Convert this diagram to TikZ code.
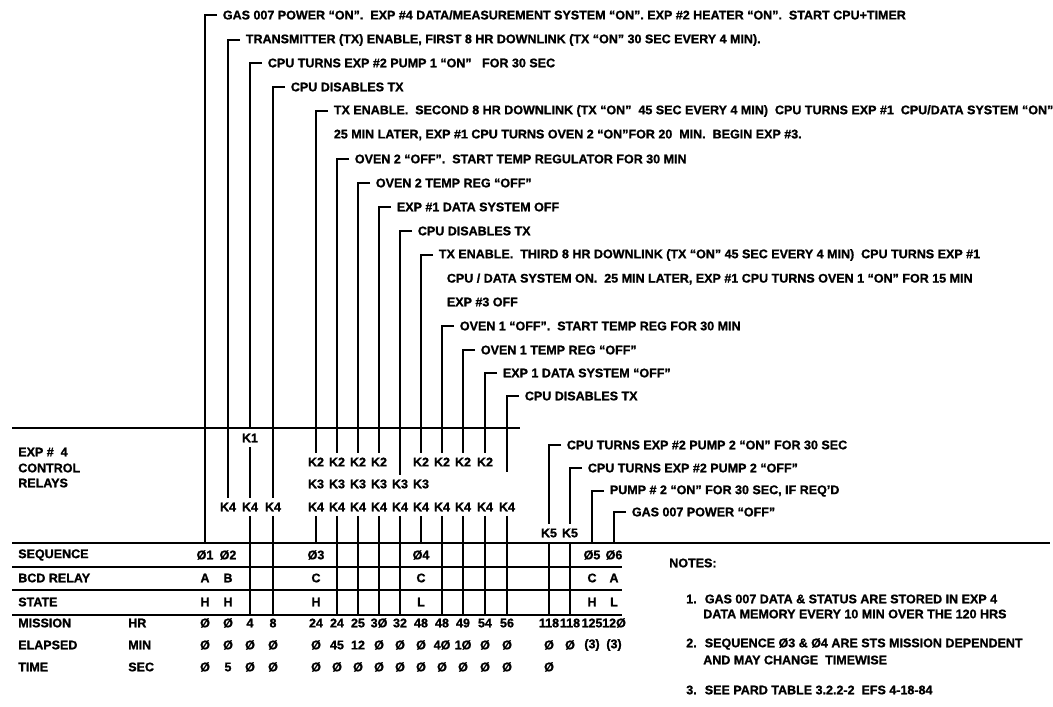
\documentclass[tikz,border=0pt]{standalone}
\usepackage{fontspec}
\setmainfont[FakeBold=1.2]{Liberation Sans}
\usetikzlibrary{positioning}

\begin{document}
\begin{tikzpicture}[
  x=0.025cm, y=-0.025cm,
  font=\fontsize{8.9}{10}\selectfont\bfseries,
  event/.style={anchor=west, inner xsep=4pt, inner ysep=0pt},
  relay/.style={inner xsep=1pt, inner ysep=3pt},
  cell/.style={inner sep=1pt},
  rowlabel/.style={anchor=west, inner sep=0pt},
  wire/.style={line width=1.5pt},
  rule/.style={line width=1.5pt}
]
  \useasboundingbox (0,0) rectangle (1053,706);

  % events
  \node[event] (e1)  at (217,15)  {GAS 007 POWER ``ON''.~ EXP \#4 DATA/MEASUREMENT SYSTEM ``ON''. EXP \#2 HEATER ``ON''.~ START CPU+TIMER};
  \node[event] (e2)  at (240,40)  {TRANSMITTER (TX) ENABLE, FIRST 8 HR DOWNLINK (TX ``ON'' 30 SEC EVERY 4 MIN).};
  \node[event] (e3)  at (262,63)  {CPU TURNS EXP \#2 PUMP 1 ``ON''~~ FOR 30 SEC};
  \node[event] (e4)  at (285,87)  {CPU DISABLES TX};
  \node[event] (e5)  at (328,111) {TX ENABLE.~ SECOND 8 HR DOWNLINK (TX ``ON''~ 45 SEC EVERY 4 MIN)~ CPU TURNS EXP \#1~ CPU/DATA SYSTEM ``ON''};
  \node[event] (e5b) at (328,135) {25 MIN LATER, EXP \#1 CPU TURNS OVEN 2 ``ON''FOR 20~ MIN.~ BEGIN EXP \#3.};
  \node[event] (e6)  at (349,159) {OVEN 2 ``OFF''.~ START TEMP REGULATOR FOR 30 MIN};
  \node[event] (e7)  at (370,183) {OVEN 2 TEMP REG ``OFF''};
  \node[event] (e8)  at (391,207) {EXP \#1 DATA SYSTEM OFF};
  \node[event] (e9)  at (412,231) {CPU DISABLES TX};
  \node[event] (e10) at (433,255) {TX ENABLE.~ THIRD 8 HR DOWNLINK (TX ``ON'' 45 SEC EVERY 4 MIN)~ CPU TURNS EXP \#1};
  \node[event] (e10b) at (441,279) {CPU / DATA SYSTEM ON.~ 25 MIN LATER, EXP \#1 CPU TURNS OVEN 1 ``ON'' FOR 15 MIN};
  \node[event] (e10c) at (441,302) {EXP \#3 OFF};
  \node[event] (e11) at (454,326) {OVEN 1 ``OFF''.~ START TEMP REG FOR 30 MIN};
  \node[event] (e12) at (475,350) {OVEN 1 TEMP REG ``OFF''};
  \node[event] (e13) at (497,373) {EXP 1 DATA SYSTEM ``OFF''};
  \node[event] (e14) at (519,396) {CPU DISABLES TX};
  \node[event] (e15) at (561,445) {CPU TURNS EXP \#2 PUMP 2 ``ON'' FOR 30 SEC};
  \node[event] (e16) at (582,468) {CPU TURNS EXP \#2 PUMP 2 ``OFF''};
  \node[event] (e17) at (604,491) {PUMP \# 2 ``ON'' FOR 30 SEC, IF REQ'D};
  \node[event] (e18) at (626,512) {GAS 007 POWER ``OFF''};

  % relays
  \node[rowlabel] (exp)  at (18,452) {EXP \#~ 4};
  \node[rowlabel] (ctl)  at (18,468) {CONTROL};
  \node[rowlabel] (rly)  at (18,483) {RELAYS};
  \node[relay] (k1c3)  at (250,438) {K1};
  \node[relay] (k2c5)  at (316,462) {K2};
  \node[relay] (k2c6)  at (337,462) {K2};
  \node[relay] (k2c7)  at (358,462) {K2};
  \node[relay] (k2c8)  at (379,462) {K2};
  \node[relay] (k2c10) at (421,462) {K2};
  \node[relay] (k2c11) at (442,462) {K2};
  \node[relay] (k2c12) at (463,462) {K2};
  \node[relay] (k2c13) at (485,462) {K2};
  \node[relay] (k3c5)  at (316,484) {K3};
  \node[relay] (k3c6)  at (337,484) {K3};
  \node[relay] (k3c7)  at (358,484) {K3};
  \node[relay] (k3c8)  at (379,484) {K3};
  \node[relay] (k3c9)  at (400,484) {K3};
  \node[relay] (k3c10) at (421,484) {K3};
  \node[relay] (k4c2)  at (228,507) {K4};
  \node[relay] (k4c3)  at (250,507) {K4};
  \node[relay] (k4c4)  at (273,507) {K4};
  \node[relay] (k4c5)  at (316,507) {K4};
  \node[relay] (k4c6)  at (337,507) {K4};
  \node[relay] (k4c7)  at (358,507) {K4};
  \node[relay] (k4c8)  at (379,507) {K4};
  \node[relay] (k4c9)  at (400,507) {K4};
  \node[relay] (k4c10) at (421,507) {K4};
  \node[relay] (k4c11) at (442,507) {K4};
  \node[relay] (k4c12) at (463,507) {K4};
  \node[relay] (k4c13) at (485,507) {K4};
  \node[relay] (k4c14) at (507,507) {K4};
  \node[relay] (k5c15) at (549,533) {K5};
  \node[relay] (k5c16) at (570,533) {K5};

  % line ends
  \coordinate (top1)  at (205,543);
  \coordinate (top5)  at (316,543);
  \coordinate (top10) at (421,543);
  \coordinate (top17) at (592,543);
  \coordinate (top18) at (614,543);
  \coordinate (mid3)  at (250,428);
  \coordinate (end14) at (507,472);
  \coordinate (bot3)  at (250,615);
  \coordinate (bot4)  at (273,615);
  \coordinate (bot6)  at (337,615);
  \coordinate (bot7)  at (358,615);
  \coordinate (bot8)  at (379,615);
  \coordinate (bot9)  at (400,615);
  \coordinate (bot11) at (442,615);
  \coordinate (bot12) at (463,615);
  \coordinate (bot13) at (485,615);
  \coordinate (bot14) at (507,615);
  \coordinate (bot15) at (549,615);
  \coordinate (bot16) at (570,615);

  % rules
  \draw[rule] (12,428) -- (520,428);
  \draw[rule] (12,543) -- (1050,543);
  \draw[rule] (12,567) -- (622,567);
  \draw[rule] (12,590) -- (622,590);
  \draw[rule] (12,615) -- (622,615);

  % brackets
  \draw[wire] (e1.west)  -| (top1);
  \draw[wire] (e2.west)  -| (k4c2.north);
  \draw[wire] (e3.west)  -| (mid3);
  \draw[wire] (e4.west)  -| (k4c4.north);
  \draw[wire] (e5.west)  -| (k2c5.north);
  \draw[wire] (e6.west)  -| (k2c6.north);
  \draw[wire] (e7.west)  -| (k2c7.north);
  \draw[wire] (e8.west)  -| (k2c8.north);
  \draw[wire] (e9.west)  -| (k3c9.north);
  \draw[wire] (e10.west) -| (k2c10.north);
  \draw[wire] (e11.west) -| (k2c11.north);
  \draw[wire] (e12.west) -| (k2c12.north);
  \draw[wire] (e13.west) -| (k2c13.north);
  \draw[wire] (e14.west) -| (end14);
  \draw[wire] (e15.west) -| (k5c15.north);
  \draw[wire] (e16.west) -| (k5c16.north);
  \draw[wire] (e17.west) -| (top17);
  \draw[wire] (e18.west) -| (top18);

  % drops into the table
  \draw[wire] (k1c3) -- (k4c3);
  \draw[wire] (k4c3) -- (bot3);
  \draw[wire] (k4c4) -- (bot4);
  \draw[wire] (k4c5) -- (top5);
  \draw[wire] (k4c6) -- (bot6);
  \draw[wire] (k4c7) -- (bot7);
  \draw[wire] (k4c8) -- (bot8);
  \draw[wire] (k4c9) -- (bot9);
  \draw[wire] (k4c10) -- (top10);
  \draw[wire] (k4c11) -- (bot11);
  \draw[wire] (k4c12) -- (bot12);
  \draw[wire] (k4c13) -- (bot13);
  \draw[wire] (k4c14) -- (bot14);
  \draw[wire] (k5c15) -- (bot15);
  \draw[wire] (k5c16) -- (bot16);

  % row labels
  \node[rowlabel] (seq)  at (18,555) {SEQUENCE};
  \node[rowlabel] (bcd)  at (18,578) {BCD RELAY};
  \node[rowlabel] (st)   at (18,602) {STATE};
  \node[rowlabel] (mis)  at (18,623) {MISSION};
  \node[rowlabel] (ela)  at (18,645) {ELAPSED};
  \node[rowlabel] (tim)  at (18,667) {TIME};
  \node[rowlabel] (hr)   at (128,623) {HR};
  \node[rowlabel] (min)  at (128,645) {MIN};
  \node[rowlabel] (sec)  at (128,667) {SEC};

  % sequence, relay, state
  \node[cell] (s1) at (205,555) {Ø1};  \node[cell] (s2) at (228,555) {Ø2};
  \node[cell] (s3) at (316,555) {Ø3};  \node[cell] (s4) at (421,555) {Ø4};
  \node[cell] (s5) at (592,555) {Ø5};  \node[cell] (s6) at (614,555) {Ø6};
  \node[cell] (b1) at (205,578) {A};   \node[cell] (b2) at (228,578) {B};
  \node[cell] (b3) at (316,578) {C};   \node[cell] (b4) at (421,578) {C};
  \node[cell] (b5) at (592,578) {C};   \node[cell] (b6) at (614,578) {A};
  \node[cell] (h1) at (205,602) {H};   \node[cell] (h2) at (228,602) {H};
  \node[cell] (h3) at (316,602) {H};   \node[cell] (h4) at (421,602) {L};
  \node[cell] (h5) at (592,602) {H};   \node[cell] (h6) at (614,602) {L};

  % mission hours
  \node[cell] (m1) at (205,623) {Ø};   \node[cell] (m2) at (228,623) {Ø};
  \node[cell] (m3) at (250,623) {4};   \node[cell] (m4) at (273,623) {8};
  \node[cell] (m5) at (316,623) {24};  \node[cell] (m6) at (337,623) {24};
  \node[cell] (m7) at (358,623) {25};  \node[cell] (m8) at (379,623) {3Ø};
  \node[cell] (m9) at (400,623) {32};  \node[cell] (m10) at (421,623) {48};
  \node[cell] (m11) at (442,623) {48}; \node[cell] (m12) at (463,623) {49};
  \node[cell] (m13) at (485,623) {54}; \node[cell] (m14) at (507,623) {56};
  \node[cell] (m15) at (549,623) {118}; \node[cell] (m16) at (570,623) {118};
  \node[cell] (m17) at (592,623) {125}; \node[cell] (m18) at (614,623) {12Ø};

  % minutes
  \node[cell] (n1) at (205,645) {Ø};   \node[cell] (n2) at (228,645) {Ø};
  \node[cell] (n3) at (250,645) {Ø};   \node[cell] (n4) at (273,645) {Ø};
  \node[cell] (n5) at (316,645) {Ø};   \node[cell] (n6) at (337,645) {45};
  \node[cell] (n7) at (358,645) {12};  \node[cell] (n8) at (379,645) {Ø};
  \node[cell] (n9) at (400,645) {Ø};   \node[cell] (n10) at (421,645) {Ø};
  \node[cell] (n11) at (442,645) {4Ø}; \node[cell] (n12) at (463,645) {1Ø};
  \node[cell] (n13) at (485,645) {Ø};  \node[cell] (n14) at (507,645) {Ø};
  \node[cell] (n15) at (549,645) {Ø};  \node[cell] (n16) at (570,645) {Ø};
  \node[cell] (n17) at (592,645) {(3)}; \node[cell] (n18) at (614,645) {(3)};

  % seconds
  \node[cell] (t1) at (205,667) {Ø};   \node[cell] (t2) at (228,667) {5};
  \node[cell] (t3) at (250,667) {Ø};   \node[cell] (t4) at (273,667) {Ø};
  \node[cell] (t5) at (316,667) {Ø};   \node[cell] (t6) at (337,667) {Ø};
  \node[cell] (t7) at (358,667) {Ø};   \node[cell] (t8) at (379,667) {Ø};
  \node[cell] (t9) at (400,667) {Ø};   \node[cell] (t10) at (421,667) {Ø};
  \node[cell] (t11) at (442,667) {Ø};  \node[cell] (t12) at (463,667) {Ø};
  \node[cell] (t13) at (485,667) {Ø};  \node[cell] (t14) at (507,667) {Ø};
  \node[cell] (t15) at (549,667) {Ø};

  % notes
  \node[rowlabel] (notes) at (669,563) {NOTES:};
  \node[rowlabel] (note1)  at (686,599) {1.~ GAS 007 DATA \& STATUS ARE STORED IN EXP 4};
  \node[rowlabel] (note1b) at (703,614) {DATA MEMORY EVERY 10 MIN OVER THE 120 HRS};
  \node[rowlabel] (note2)  at (686,644) {2.~ SEQUENCE Ø3 \& Ø4 ARE STS MISSION DEPENDENT};
  \node[rowlabel] (note2b) at (703,660) {AND MAY CHANGE~ TIMEWISE};
  \node[rowlabel] (note3)  at (686,690) {3.~ SEE PARD TABLE 3.2.2-2~ EFS 4-18-84};
\end{tikzpicture}
\end{document}
